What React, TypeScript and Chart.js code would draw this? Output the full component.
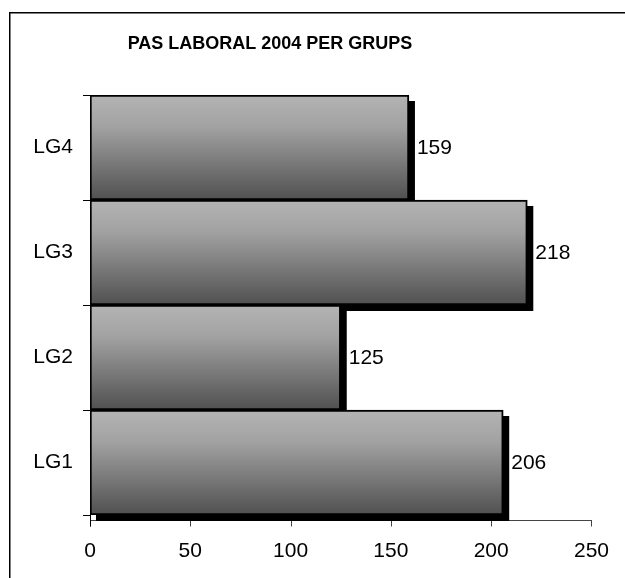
import React, { useEffect, useRef } from 'react';
import { Chart, registerables } from 'chart.js';

Chart.register(...registerables);

const chartTitle = 'PAS LABORAL 2004 PER GRUPS';
const categories = ['LG4', 'LG3', 'LG2', 'LG1'];
const values = [159, 218, 125, 206];
const xMin = 0;
const xMax = 250;
const xStep = 50;

const FONT = "'Liberation Sans', Arial, Helvetica, sans-serif";

export default function App() {
  const ref = useRef<HTMLCanvasElement>(null);

  useEffect(() => {
    const canvas = ref.current;
    if (!canvas) return;
    const SH = 6;

    const framePlugin = {
      id: 'frame',
      beforeDraw(chart: any) {
        const ctx = chart.ctx;
        ctx.save();
        ctx.fillStyle = '#ffffff';
        ctx.fillRect(0, 0, chart.width, chart.height);
        ctx.strokeStyle = '#000000';
        ctx.lineWidth = 1.5;
        ctx.beginPath();
        ctx.moveTo(9.75, chart.height);
        ctx.lineTo(9.75, 12.75);
        ctx.lineTo(chart.width, 12.75);
        ctx.stroke();
        ctx.font = `bold 18px ${FONT}`;
        ctx.fillStyle = '#000000';
        ctx.textAlign = 'center';
        ctx.textBaseline = 'middle';
        ctx.fillText(chartTitle, 270, 44);
        ctx.restore();
      },
    };

    const barDecor = {
      id: 'barDecor',
      beforeDatasetsDraw(chart: any) {
        const ctx = chart.ctx;
        const area = chart.chartArea;
        const xs = chart.scales.x;
        const axisY = area.bottom + 5.5;
        ctx.save();
        ctx.strokeStyle = '#444444';
        ctx.lineWidth = 1;
        ctx.beginPath();
        ctx.moveTo(area.left, axisY);
        ctx.lineTo(area.right + 0.5, axisY);
        for (let v = xMin; v <= xMax; v += xStep) {
          const px = Math.round(xs.getPixelForValue(v)) + 0.5;
          ctx.moveTo(px, axisY);
          ctx.lineTo(px, axisY + 6);
        }
        ctx.stroke();
        ctx.strokeStyle = '#000000';
        ctx.beginPath();
        const lx = Math.round(area.left) + 0.5;
        ctx.moveTo(lx, area.bottom);
        ctx.lineTo(lx, axisY + 6);
        ctx.stroke();
        ctx.fillStyle = '#000000';
        const meta = chart.getDatasetMeta(0);
        meta.data.forEach((el: any) => {
          const p = el.getProps(['x', 'y', 'base', 'height'], true);
          const left = Math.min(p.x, p.base);
          const right = Math.max(p.x, p.base);
          ctx.fillRect(left + SH, p.y - p.height / 2 + SH, right - left, p.height);
        });
        ctx.restore();
      },
      afterDatasetsDraw(chart: any) {
        const ctx = chart.ctx;
        const meta = chart.getDatasetMeta(0);
        ctx.save();
        ctx.font = `21px ${FONT}`;
        ctx.fillStyle = '#000000';
        ctx.textAlign = 'left';
        ctx.textBaseline = 'middle';
        meta.data.forEach((el: any, i: number) => {
          const p = el.getProps(['x', 'y'], true);
          ctx.fillText(String(values[i]), p.x + 8, p.y + 1);
        });
        ctx.restore();
      },
    };

    const chart = new Chart(canvas, {
      type: 'bar',
      data: {
        labels: categories,
        datasets: [
          {
            data: values,
            backgroundColor: (c: any) => {
              const ch = c.chart;
              const ys = ch.scales && ch.scales.y;
              if (!ch.chartArea || !ys || c.dataIndex === undefined) return '#888888';
              const center = ys.getPixelForValue(c.dataIndex);
              const half = (ch.chartArea.bottom - ch.chartArea.top) / categories.length / 2;
              const g = ch.ctx.createLinearGradient(0, center - half, 0, center + half);
              g.addColorStop(0, '#b4b4b4');
              g.addColorStop(0.3, '#a2a2a2');
              g.addColorStop(1, '#505050');
              return g;
            },
            borderColor: '#000000',
            borderWidth: 2,
            borderSkipped: false,
            categoryPercentage: 1,
            barPercentage: 1,
          },
        ],
      },
      options: {
        indexAxis: 'y',
        responsive: false,
        animation: false,
        devicePixelRatio: 1,
        events: [],
        layout: { padding: { top: 95, right: 30, left: 0, bottom: 0 } },
        plugins: {
          legend: { display: false },
          title: { display: false },
          tooltip: { enabled: false },
        },
        scales: {
          x: {
            type: 'linear',
            min: xMin,
            max: xMax,
            ticks: {
              stepSize: xStep,
              color: '#000000',
              font: { family: FONT, size: 21 },
              padding: 16,
              maxRotation: 0,
            },
            grid: { display: false },
            border: { display: false },
            afterFit: (s: any) => {
              s.height = 63;
            },
          },
          y: {
            type: 'category',
            ticks: {
              color: '#000000',
              font: { family: FONT, size: 21 },
              padding: 10,
            },
            grid: {
              display: true,
              drawOnChartArea: false,
              drawTicks: true,
              tickLength: 7,
              color: '#000000',
              offset: true,
            },
            border: { display: true, color: '#000000', width: 1 },
            afterFit: (s: any) => {
              s.width = 90;
            },
          },
        },
      },
      plugins: [framePlugin, barDecor],
    });

    return () => chart.destroy();
  }, []);

  return (
    <div style={{ position: 'absolute', left: 0, top: 0, width: 625, height: 578 }}>
      <canvas ref={ref} width={625} height={578} style={{ display: 'block' }} />
    </div>
  );
}
